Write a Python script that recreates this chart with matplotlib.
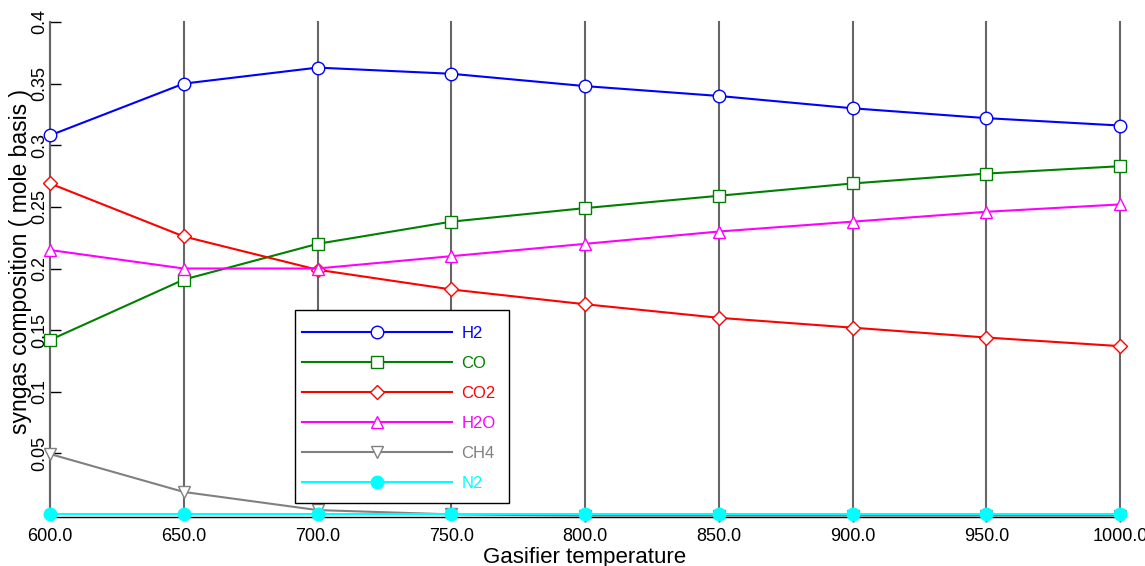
import matplotlib
matplotlib.use("Agg")
import matplotlib.pyplot as plt
from matplotlib.patches import Rectangle

plt.rcParams['font.family'] = ['Liberation Sans', 'DejaVu Sans']

temps = [600, 650, 700, 750, 800, 850, 900, 950, 1000]
h2 = [0.308, 0.350, 0.363, 0.358, 0.348, 0.340, 0.330, 0.322, 0.316]
co = [0.142, 0.191, 0.220, 0.238, 0.249, 0.259, 0.269, 0.277, 0.283]
co2 = [0.269, 0.226, 0.199, 0.183, 0.171, 0.160, 0.152, 0.144, 0.137]
h2o = [0.215, 0.200, 0.200, 0.210, 0.220, 0.230, 0.238, 0.246, 0.252]
ch4 = [0.0495, 0.0187, 0.004, 0.0005, -0.0005, -0.0005, -0.0005, -0.0005, -0.0005]
n2 = [0.001, 0.001, 0.001, 0.001, 0.001, 0.001, 0.001, 0.001, 0.001]

xticklabels = ["600.0", "650.0", "700.0", "750.0", "800.0", "850.0", "900.0", "950.0", "1000.0"]
yticks = [0.05, 0.1, 0.15, 0.2, 0.25, 0.3, 0.35, 0.4]
yticklabels = ["0.05", "0.1", "0.15", "0.2", "0.25", "0.3", "0.35", "0.4"]

fig = plt.figure(figsize=(11.45, 5.66), dpi=100)
H = 566.0
y0_px, y4_px = 515.0, 22.0
ax_bottom_px = 517.0
ax_h_px = ax_bottom_px - 22
ax = fig.add_axes([50/1145, (H-ax_bottom_px)/H, 1070/1145, ax_h_px/H])
scale = (y0_px - y4_px) / 0.4
ax.set_ylim(-2/scale, 0.4)
ax.set_xlim(600, 1000)

for t in temps:
    ax.axvline(t, color='#666666', lw=1.5, zorder=1, clip_on=False)

series = [
    ("H2", h2, '#0000ff', 'o', 'white', 9),
    ("CO", co, '#008000', 's', 'white', 9),
    ("CO2", co2, '#ff0000', 'D', 'white', 7),
    ("H2O", h2o, '#ff00ff', '^', 'white', 8.5),
    ("CH4", ch4, '#808080', 'v', 'white', 8.5),
    ("N2", n2, '#00ffff', 'o', '#00ffff', 9),
]
for name, vals, c, m, fc, ms in series:
    ax.plot(temps, vals, color=c, lw=1.5, marker=m, markersize=ms,
            markerfacecolor=fc, markeredgecolor=c, markeredgewidth=1.0,
            label=name, zorder=3, clip_on=False)

for s in ['top', 'right']:
    ax.spines[s].set_visible(False)
ax.spines['left'].set_color('#666666')
ax.spines['left'].set_linewidth(1.5)
ax.spines['bottom'].set_color('black')
ax.spines['bottom'].set_linewidth(1.0)

ax.set_xticks(temps)
ax.set_xticklabels(xticklabels, fontsize=13)
ax.tick_params(axis='x', length=0, pad=8)
ax.set_yticks(yticks)
ax.set_yticklabels(yticklabels, fontsize=13, rotation=90, va='center')
ax.tick_params(axis='y', direction='in', length=8, width=1, color='black', pad=1)

ax.set_xlabel("Gasifier temperature", fontsize=16)
ax.xaxis.set_label_coords(0.5, -(557 - ax_bottom_px) / ax_h_px, transform=ax.transAxes)
ax.xaxis.label.set_va('center')
ax.set_ylabel("syngas composition ( mole basis )", fontsize=16.5)
ax.yaxis.set_label_coords((21 - 50) / 1070, (ax_bottom_px - 261) / ax_h_px, transform=ax.transAxes)
ax.yaxis.label.set_va('center')

# legend frame
box = Rectangle(((295-50)/1070, (ax_bottom_px-503)/ax_h_px), (509-295)/1070, (503-310)/ax_h_px,
                transform=ax.transAxes, facecolor='white', edgecolor='black', lw=1.0,
                zorder=4, clip_on=False)
ax.add_patch(box)

leg = ax.legend(loc='upper left', bbox_to_anchor=((302-50)/1070, (ax_bottom_px-326)/ax_h_px),
                handlelength=9.0, fontsize=12, frameon=False, borderpad=0, labelspacing=0.895,
                handletextpad=0.55, borderaxespad=0)
for text, (name, vals, c, m, fc, ms) in zip(leg.get_texts(), series):
    text.set_color(c)
leg.set_zorder(5)

fig.savefig("out.png", dpi=100)
